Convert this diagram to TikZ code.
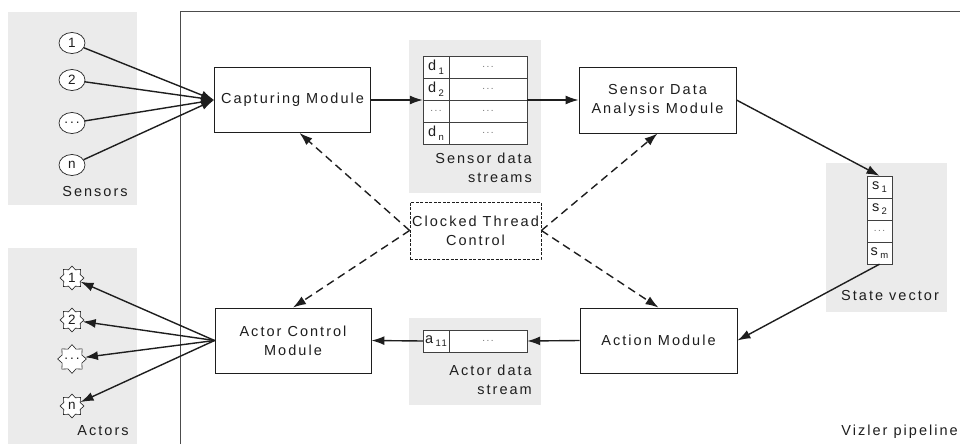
\documentclass[tikz,border=0pt]{standalone}
\usepackage{fontspec}
\setmainfont{Liberation Sans}[LetterSpace=14]
\usetikzlibrary{shapes.geometric,arrows.meta}

\definecolor{ink}{HTML}{1E1E1E}
\definecolor{panelgray}{HTML}{EBEBEB}

\newcommand{\sub}[2]{#1\,\raisebox{-3.5pt}{\fontsize{9.5}{9.5}\selectfont #2}}

\tikzset{
  panel/.style={fill=panelgray, draw=none},
  module/.style={draw=ink, line width=0.9pt, fill=white, align=center,
    inner sep=0pt, minimum width=156pt, minimum height=65pt, text=ink},
  cell/.style={draw=ink!85, line width=0.7pt, fill=white, inner sep=0pt,
    minimum height=22pt, text=ink},
  dotcell/.style={cell, font=\fontsize{10}{10}\selectfont, text=black!55},
  holder/.style={draw=none, inner sep=0pt},
  sensor/.style={ellipse, draw=ink, line width=0.7pt, fill=white, inner sep=0pt,
    minimum width=26pt, minimum height=21pt, font=\fontsize{13.5}{13.5}\selectfont, text=ink},
  actor/.style={star, star points=8, star point ratio=1.35, draw=ink, line width=0.6pt,
    fill=white, inner sep=0pt, minimum size=24pt, font=\fontsize{13.5}{13.5}\selectfont, text=ink},
  conn/.style={draw=ink, line width=1.4pt, -{Latex[length=13pt,width=9pt]}},
  ctl/.style={draw=ink, line width=1.4pt, dash pattern=on 8pt off 5pt,
    -{Latex[length=13pt,width=9pt]}},
  caption/.style={text=ink, inner sep=0pt}
}

\begin{document}
\begin{tikzpicture}[x=1pt,y=-1pt, font=\fontsize{14.5}{19}\selectfont]
  \useasboundingbox (0,0) rectangle (960,444);
  \fill[white] (0,0) rectangle (960,444);

  % grey backdrops
  \fill[panel] (8,12) rectangle (137,205);
  \fill[panel] (8,248) rectangle (137,444);
  \fill[panel] (409,40) rectangle (541,193);
  \fill[panel] (409,318) rectangle (541,405);
  \fill[panel] (826,163) rectangle (947,312);

  % pipeline frame
  \draw[black!70, line width=0.8pt] (180,444) -- (180,11) -- (960,11);

  % modules
  \node[module] (cap) at (292.5,100) {Capturing Module};
  \node[module, minimum width=157pt, minimum height=66pt] (sda) at (657.5,100) {Sensor Data\\Analysis Module};
  \node[module] (acm) at (293,340.5) {Actor Control\\Module};
  \node[module, minimum width=157pt] (act) at (658.5,340.5) {Action Module};

  % sensors
  \node[sensor] (s1) at (72,43) {1};
  \node[sensor] (s2) at (72,80) {2};
  \node[sensor] (s3) at (72,123) {...};
  \node[sensor] (s4) at (72,165) {n};
  \node[caption] (senslbl) at (95,192) {Sensors};

  % actors
  \node[actor] (a1) at (72,278) {1};
  \node[actor] (a2) at (72,320) {2};
  \node[actor] (a3) at (72,359) {...};
  \node[actor] (a4) at (72,406) {n};
  \node[caption] (actlbl) at (103,431) {Actors};

  % sensor data streams table
  \node[holder, minimum width=104pt, minimum height=88pt] (sds) at (475,100) {};
  \foreach \i/\lab [count=\r] in {1/\sub{d}{1},2/\sub{d}{2},3/{\fontsize{10}{10}\selectfont\color{black!55}...},4/\sub{d}{n}} {
    \node[cell, minimum width=26pt] (dk\i) at (436,45+22*\r) {\lab};
    \node[dotcell, minimum width=78pt] (dv\i) at (488,45+22*\r) {...};
  }
  \node[caption, align=right, anchor=north east] (sdslbl) at (532,153) {Sensor data\\streams};

  % state vector
  \node[holder, minimum width=25pt, minimum height=88pt] (sv) at (879.5,220) {};
  \node[cell, minimum width=25pt] (sv1) at (879.5,187) {\sub{s}{1}};
  \node[cell, minimum width=25pt] (sv2) at (879.5,209) {\sub{s}{2}};
  \node[dotcell, minimum width=25pt] (sv3) at (879.5,231) {...};
  \node[cell, minimum width=25pt] (sv4) at (879.5,253) {\sub{s}{m}};
  \node[caption] (svlbl) at (890,296) {State vector};

  % actor data stream
  \node[holder, minimum width=104pt, minimum height=22pt] (ads) at (475,341) {};
  \node[cell, minimum width=26pt] (ak) at (436,341) {\sub{a}{11}};
  \node[dotcell, minimum width=78pt] (av) at (488,341) {...};
  \node[caption, align=right, anchor=north east] (adslbl) at (532,365) {Actor data\\stream};

  % clock control
  \node[draw=ink, line width=0.8pt, dash pattern=on 3pt off 1.5pt, align=center,
    inner sep=0pt, minimum width=131pt, minimum height=57pt, text=ink] (ctc) at (475.5,230.5)
    {Clocked Thread\\Control};

  \node[caption, anchor=east] (title) at (958,432) {Vizler pipeline};

  % data flow
  \foreach \s in {s1,s2,s3,s4} \draw[conn] (\s) -- (cap.west);
  \draw[conn] (cap.east) -- (sds.west);
  \draw[conn] (sds.east) -- (sda.west);
  \draw[conn] (sda.east) -- (sv.north);
  \draw[conn] (sv.south) -- (act.east);
  \draw[conn] (act.west) -- (ads.east);
  \draw[conn] (ads.west) -- (acm.east);
  \foreach \a in {a1,a2,a3,a4} \draw[conn] (acm.west) -- (\a);

  % clock signals
  \draw[ctl] (ctc.west) -- ([xshift=7pt]cap.south);
  \draw[ctl] (ctc.west) -- (acm.north);
  \draw[ctl] (ctc.east) -- (sda.south);
  \draw[ctl] (ctc.east) -- (act.north);
\end{tikzpicture}
\end{document}
